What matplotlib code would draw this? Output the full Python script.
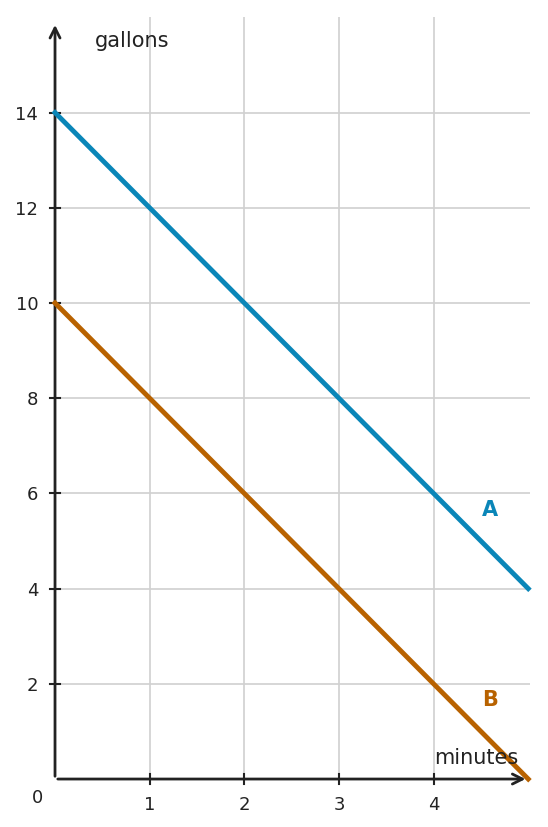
import matplotlib
matplotlib.use('Agg')
import matplotlib.pyplot as plt

# dane
minutes = [0, 5]
tank_a = [14, 4]
tank_b = [10, 0]
x_ticks = [1, 2, 3, 4]
y_ticks = [2, 4, 6, 8, 10, 12, 14]

col_a = '#0a86b8'
col_b = '#b86200'
txt = '#222222'

fig = plt.figure(figsize=(5.48, 8.27), dpi=100)
ax = fig.add_axes([0.1004, 0.058, 0.867, 0.921])
ax.set_xlim(0, 5.02)
ax.set_ylim(0, 16)

for s in ax.spines.values():
    s.set_visible(False)

ax.set_xticks(x_ticks)
ax.set_yticks(y_ticks)
ax.grid(True, color='#d0d0d0', lw=1.2)
ax.tick_params(axis='both', length=0, labelsize=13, labelcolor=txt, pad=12)

# osie ze strzałkami
ax.annotate('', xy=(5.0, 0), xytext=(0, 0),
            arrowprops=dict(arrowstyle='->', color=txt, lw=2, mutation_scale=18),
            annotation_clip=False)
ax.annotate('', xy=(0, 15.9), xytext=(0, 0),
            arrowprops=dict(arrowstyle='->', color=txt, lw=2, mutation_scale=18),
            annotation_clip=False)
for t in x_ticks:
    ax.plot([t, t], [-0.1, 0.1], color=txt, lw=1.5, clip_on=False)
for t in y_ticks:
    ax.plot([-0.05, 0.05], [t, t], color=txt, lw=1.5, clip_on=False)

ax.plot(minutes, tank_a, color=col_a, lw=3.5, clip_on=False, zorder=3)
ax.plot(minutes, tank_b, color=col_b, lw=3.5, clip_on=False, zorder=3)

ax.text(4.6, 5.65, 'A', color=col_a, fontsize=15, fontweight='bold', ha='center', va='center')
ax.text(4.6, 1.65, 'B', color=col_b, fontsize=15, fontweight='bold', ha='center', va='center')

ax.text(0.42, 15.5, 'gallons', color=txt, fontsize=15, ha='left', va='center')
ax.text(4.9, 0.45, 'minutes', color=txt, fontsize=15, ha='right', va='center')
ax.text(-0.18, -0.4, '0', color=txt, fontsize=13, ha='center', va='center')

fig.savefig('out.png', dpi=100)
